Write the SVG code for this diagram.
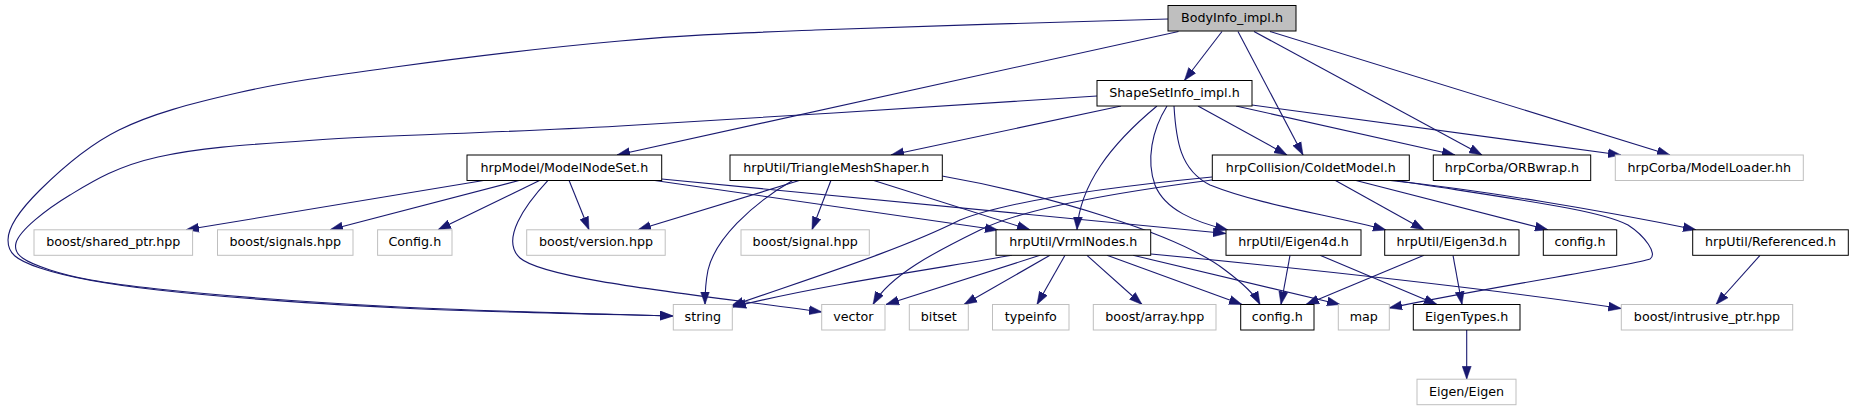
<svg xmlns="http://www.w3.org/2000/svg" width="1854" height="411" viewBox="0 0 1854 411">
<style>
.e{fill:none;stroke:#191970;stroke-width:1.1;marker-end:url(#ah)}
.b rect{fill:#fff;stroke:#000;stroke-width:1}
.g rect{fill:#fff;stroke:#bfbfbf;stroke-width:1}
.root rect{fill:#bfbfbf;stroke:#000;stroke-width:1}
text{font-family:"DejaVu Sans","Liberation Sans",sans-serif;font-size:12.7px;text-anchor:middle;fill:#000}
</style>
<defs>
<marker id="ah" markerWidth="13" markerHeight="10" refX="13" refY="5" orient="auto" markerUnits="userSpaceOnUse"><path d="M0,0.5 L13,5 L0,9.5 z" fill="#191970" stroke="#191970" stroke-width="0.5"/></marker>
</defs>
<rect width="1854" height="411" fill="#fff"/>
<g id="connectors">
<path class="e" d="M1168,19 C1109.2,20.8 906.3,26.3 815,30 C723.7,33.7 690,34.8 620,41 C550,47.2 458.8,58.3 395,67 C331.2,75.7 283,82.5 237,93 C191,103.5 151.8,113.8 119,130 C86.2,146.2 58.5,171.7 40,190 C21.5,208.3 8,227 8,240 C8,253 15,259.7 40,268 C65,276.3 98,283.3 158,290 C218,296.7 314.2,303.7 400,308 C485.8,312.3 627.5,314.7 673,316"/>
<path class="e" d="M1097,96 C1017.5,101 750.2,118.7 620,126 C489.8,133.3 393,134.8 316,140 C239,145.2 199,147.8 158,157 C117,166.2 93.7,180.7 70,195 C46.3,209.3 19.3,230.5 16,243 C12.7,255.5 26.3,262.3 50,270 C73.7,277.7 99.7,282.8 158,289 C216.3,295.2 314.2,302.5 400,307 C485.8,311.5 627.5,314.5 673,316"/>
<path class="e" d="M1178.5,31.5 L617,155"/>
<path class="e" d="M1222,31.5 L1184.4,80.5"/>
<path class="e" d="M1238,31.5 L1303,155"/>
<path class="e" d="M1254,31.5 L1482,155"/>
<path class="e" d="M1270,31.5 L1670,155"/>
<path class="e" d="M1121,106 L891,155"/>
<path class="e" d="M1157,106 C1110,145 1080,185 1077,229.8"/>
<path class="e" d="M1167,106 C1152,130 1146,160 1155,185 C1165,210 1195,222 1228,230"/>
<path class="e" d="M1174,106 C1176,140 1180,170 1210,185 C1260,205 1330,215 1386,230"/>
<path class="e" d="M1198,106 L1287,155"/>
<path class="e" d="M1236,106 L1455,155"/>
<path class="e" d="M1252,105 L1621,155"/>
<path class="e" d="M485,180.3 L186,229.8"/>
<path class="e" d="M520,180.3 L330,229.8"/>
<path class="e" d="M540,180.3 L438,229.8"/>
<path class="e" d="M548,180.3 C525,205 500,240 520,258 C545,280 700,295 822,312"/>
<path class="e" d="M569,180.3 L589,229.8"/>
<path class="e" d="M653,180.3 L998,230"/>
<path class="e" d="M661.7,179 L1226,233.5"/>
<path class="e" d="M793,180.3 C750,205 715,240 708,270 C705,285 705,295 705,304.5"/>
<path class="e" d="M800,180.3 L638,229.8"/>
<path class="e" d="M831,180.3 L812,229.8"/>
<path class="e" d="M873,180.3 L1030,229.8"/>
<path class="e" d="M942,176 C1050,195 1180,235 1225,270 C1245,285 1255,295 1260,304.5"/>
<path class="e" d="M1212,177 C1120,186 1010,200 960,220 C900,250 820,275 731,306"/>
<path class="e" d="M1212,180 C1150,188 1030,205 980,230 C935,252 890,275 873,304.5"/>
<path class="e" d="M1335,180.3 L1424,229.8"/>
<path class="e" d="M1355,180.3 L1548,229.8"/>
<path class="e" d="M1388,180.3 C1480,190 1600,210 1696,229.8"/>
<path class="e" d="M1395,180.3 C1520,200 1600,210 1628,225 C1645,236 1658,254 1650,259 C1630,266 1500,285 1389,308"/>
<path class="e" d="M1012,255.3 C940,268 820,285 733,307"/>
<path class="e" d="M1040,255.3 L886,304.5"/>
<path class="e" d="M1050,255.3 L964,304.5"/>
<path class="e" d="M1065,255.3 L1037,304.5"/>
<path class="e" d="M1087,255.3 L1142,304.5"/>
<path class="e" d="M1107,255.3 L1242,304.5"/>
<path class="e" d="M1133,255.3 L1340,304.5"/>
<path class="e" d="M1151,254 C1300,268 1500,290 1621.3,308.5"/>
<path class="e" d="M1290,255.3 L1281,304.5"/>
<path class="e" d="M1320,255.3 L1437,304.5"/>
<path class="e" d="M1424,255.3 L1306,304.5"/>
<path class="e" d="M1453,255.3 L1462,304.5"/>
<path class="e" d="M1760,255.3 L1716,304.5"/>
<path class="e" d="M1466.7,330 L1466.7,379.2"/>
</g>
<g id="n_bodyinfo" class="root"><rect x="1168" y="5.5" width="128" height="25.5"/><text x="1232" y="22.1">BodyInfo_impl.h</text></g>
<g id="n_shapesetinfo" class="b"><rect x="1097" y="80.5" width="155" height="25.5"/><text x="1174.5" y="97.1">ShapeSetInfo_impl.h</text></g>
<g id="n_modelnodeset" class="b"><rect x="467" y="155" width="194.7" height="25.5"/><text x="564.3" y="171.6">hrpModel/ModelNodeSet.h</text></g>
<g id="n_trianglemeshshaper" class="b"><rect x="730" y="155" width="212.3" height="25.5"/><text x="836.2" y="171.6">hrpUtil/TriangleMeshShaper.h</text></g>
<g id="n_coldetmodel" class="b"><rect x="1212.3" y="155" width="197" height="25.5"/><text x="1310.8" y="171.6">hrpCollision/ColdetModel.h</text></g>
<g id="n_orbwrap" class="b"><rect x="1433.3" y="155" width="157.4" height="25.5"/><text x="1512" y="171.6">hrpCorba/ORBwrap.h</text></g>
<g id="n_modelloader" class="g"><rect x="1615.3" y="155" width="188" height="25.5"/><text x="1709.3" y="171.6">hrpCorba/ModelLoader.hh</text></g>
<g id="n_shared_ptr" class="g"><rect x="34" y="229.8" width="158.6" height="25.5"/><text x="113.3" y="246.4">boost/shared_ptr.hpp</text></g>
<g id="n_signals" class="g"><rect x="217.5" y="229.8" width="135.5" height="25.5"/><text x="285.3" y="246.4">boost/signals.hpp</text></g>
<g id="n_Config" class="g"><rect x="377.6" y="229.8" width="74.4" height="25.5"/><text x="414.8" y="246.4">Config.h</text></g>
<g id="n_version" class="g"><rect x="526.7" y="229.8" width="138.5" height="25.5"/><text x="596" y="246.4">boost/version.hpp</text></g>
<g id="n_signal" class="g"><rect x="741" y="229.8" width="128.3" height="25.5"/><text x="805.2" y="246.4">boost/signal.hpp</text></g>
<g id="n_vrmlnodes" class="b"><rect x="996" y="229.8" width="154.7" height="25.5"/><text x="1073.3" y="246.4">hrpUtil/VrmlNodes.h</text></g>
<g id="n_eigen4d" class="b"><rect x="1226" y="229.8" width="135" height="25.5"/><text x="1293.5" y="246.4">hrpUtil/Eigen4d.h</text></g>
<g id="n_eigen3d" class="b"><rect x="1384.7" y="229.8" width="134.3" height="25.5"/><text x="1451.8" y="246.4">hrpUtil/Eigen3d.h</text></g>
<g id="n_config_a" class="b"><rect x="1543.3" y="229.8" width="73.4" height="25.5"/><text x="1580" y="246.4">config.h</text></g>
<g id="n_referenced" class="b"><rect x="1692.7" y="229.8" width="155.6" height="25.5"/><text x="1770.5" y="246.4">hrpUtil/Referenced.h</text></g>
<g id="n_string" class="g"><rect x="673.3" y="304.5" width="59" height="25.5"/><text x="702.8" y="321.1">string</text></g>
<g id="n_vector" class="g"><rect x="821.7" y="304.5" width="63.3" height="25.5"/><text x="853.3" y="321.1">vector</text></g>
<g id="n_bitset" class="g"><rect x="909.3" y="304.5" width="59" height="25.5"/><text x="938.8" y="321.1">bitset</text></g>
<g id="n_typeinfo" class="g"><rect x="992.5" y="304.5" width="76.5" height="25.5"/><text x="1030.8" y="321.1">typeinfo</text></g>
<g id="n_array" class="g"><rect x="1093.3" y="304.5" width="122.7" height="25.5"/><text x="1154.7" y="321.1">boost/array.hpp</text></g>
<g id="n_config_b" class="b"><rect x="1240.7" y="304.5" width="73.3" height="25.5"/><text x="1277.3" y="321.1">config.h</text></g>
<g id="n_map" class="g"><rect x="1338.3" y="304.5" width="51" height="25.5"/><text x="1363.8" y="321.1">map</text></g>
<g id="n_eigentypes" class="b"><rect x="1413.3" y="304.5" width="106.7" height="25.5"/><text x="1466.7" y="321.1">EigenTypes.h</text></g>
<g id="n_intrusive_ptr" class="g"><rect x="1621.3" y="304.5" width="171.4" height="25.5"/><text x="1707" y="321.1">boost/intrusive_ptr.hpp</text></g>
<g id="n_eigen" class="g"><rect x="1417" y="379.2" width="99" height="25.5"/><text x="1466.5" y="395.8">Eigen/Eigen</text></g>
</svg>
